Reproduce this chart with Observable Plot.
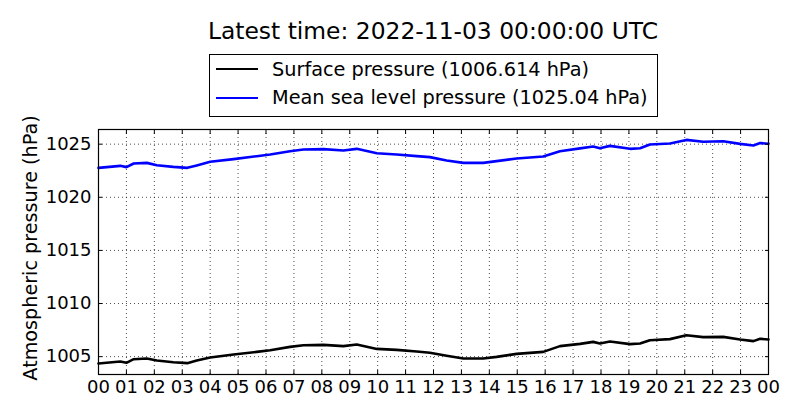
<!DOCTYPE html>
<html>
<head>
<meta charset="utf-8">
<script src="https://cdn.jsdelivr.net/npm/d3@7"></script>
<script src="https://cdn.jsdelivr.net/npm/@observablehq/plot@0.6"></script>
<style>
  html, body { margin: 0; padding: 0; background: #fff; }
  #wrap { position: relative; width: 800px; height: 420px; font-family: "DejaVu Sans", sans-serif; }
  #title { position: absolute; left: 98px; width: 670px; top: 17px; text-align: center; font-size: 23.4px; color: #000; white-space: nowrap; }
  #legend { position: absolute; left: 209px; top: 54px; width: 447px; height: 61px; border: 1px solid #000; background: #fff; }
  .entry { position: absolute; left: 6px; height: 24px; display: flex; align-items: center; font-size: 19.3px; white-space: nowrap; }
  .swatch { width: 42px; height: 0; border-top: 2.5px solid; margin-right: 14px; }
</style>
</head>
<body>
<div id="wrap">
  <div id="chart"></div>
  <div id="title"></div>
  <div id="legend"></div>
</div>
<script>
// Hours since 2022-11-02 00:00 UTC
const hours = [0, 0.78, 1.0, 1.26, 1.73, 2.09, 2.68, 3.18, 3.52, 4.0, 4.84, 5.67, 6.15, 6.86, 7.34, 8.06, 8.77, 9.25, 9.97, 10.68, 11.4, 11.87, 12.47, 13.07, 13.78, 14.26, 14.98, 15.93, 16.53, 17.25, 17.72, 17.96, 18.32, 19.04, 19.4, 19.75, 20.47, 21.06, 21.66, 22.38, 22.98, 23.46, 23.7, 24.0];
// Surface pressure (hPa)
const surface = [1004.36, 1004.55, 1004.42, 1004.76, 1004.83, 1004.64, 1004.48, 1004.39, 1004.64, 1004.92, 1005.2, 1005.45, 1005.61, 1005.92, 1006.08, 1006.11, 1005.99, 1006.15, 1005.73, 1005.64, 1005.49, 1005.36, 1005.08, 1004.83, 1004.83, 1004.98, 1005.26, 1005.45, 1005.99, 1006.2, 1006.39, 1006.24, 1006.43, 1006.18, 1006.24, 1006.55, 1006.65, 1007.02, 1006.84, 1006.86, 1006.62, 1006.46, 1006.68, 1006.614];
// Mean sea level pressure (hPa)
const mslp = [1022.77, 1022.96, 1022.84, 1023.18, 1023.24, 1023.02, 1022.86, 1022.77, 1023.0, 1023.34, 1023.59, 1023.87, 1024.03, 1024.34, 1024.5, 1024.53, 1024.4, 1024.56, 1024.15, 1024.03, 1023.87, 1023.78, 1023.46, 1023.24, 1023.24, 1023.4, 1023.65, 1023.84, 1024.34, 1024.6, 1024.78, 1024.62, 1024.84, 1024.56, 1024.62, 1024.97, 1025.06, 1025.4, 1025.22, 1025.28, 1025.03, 1024.88, 1025.1, 1025.04];
const seriesNames = ["Surface pressure", "Mean sea level pressure"];
const seriesColors = ["#000000", "#0000ff"];
const latestValues = ["1006.614", "1025.04"];
const xTicks = d3.range(0, 25);
const yTicks = [1005, 1010, 1015, 1020, 1025];
const yDomain = [1003.32, 1026.38];
const titleText = "Latest time: 2022-11-03 00:00:00 UTC";
const yLabel = "Atmospheric pressure (hPa)";

const surfData = hours.map((h, i) => ({h, p: surface[i]}));
const mslpData = hours.map((h, i) => ({h, p: mslp[i]}));
const hourFmt = d => String(d % 24).padStart(2, "0");

const chart = Plot.plot({
  width: 800,
  height: 420,
  marginLeft: 98,
  marginRight: 32,
  marginTop: 129,
  marginBottom: 46,
  style: {fontFamily: "DejaVu Sans, sans-serif", fontSize: "18px", color: "#000", background: "#fff"},
  x: {domain: [0, 24]},
  y: {domain: yDomain},
  marks: [
    Plot.gridX(xTicks, {stroke: "#000", strokeOpacity: 1, strokeWidth: 0.7, strokeDasharray: "1,3"}),
    Plot.gridY(yTicks, {stroke: "#000", strokeOpacity: 1, strokeWidth: 0.7, strokeDasharray: "1,3"}),
    Plot.line(surfData, {x: "h", y: "p", stroke: seriesColors[0], strokeWidth: 2.6}),
    Plot.line(mslpData, {x: "h", y: "p", stroke: seriesColors[1], strokeWidth: 2.6}),
    Plot.frame({stroke: "#000", strokeWidth: 1.2}),
    Plot.axisX(xTicks, {anchor: "bottom", tickSize: -4, tickPadding: 10, tickFormat: hourFmt, label: null, fontSize: 18}),
    Plot.axisX(xTicks, {anchor: "top", tickSize: -4, tickFormat: () => "", label: null}),
    Plot.axisY(yTicks, {anchor: "left", tickSize: -4, tickPadding: 11, tickFormat: d => String(d), label: null, fontSize: 18}),
    Plot.axisY(yTicks, {anchor: "right", tickSize: -4, tickFormat: () => "", label: null}),
    Plot.text([yLabel], {text: d => d, frameAnchor: "left", textAnchor: "middle", lineAnchor: "middle", rotate: -90, dx: -68, dy: -4, fontSize: 19.2, fill: "#000"})
  ]
});
document.getElementById("chart").appendChild(chart);

document.getElementById("title").textContent = titleText;
const legend = document.getElementById("legend");
seriesNames.forEach((name, i) => {
  const e = document.createElement("div");
  e.className = "entry";
  e.style.top = (2 + i * 28.5) + "px";
  const sw = document.createElement("span");
  sw.className = "swatch";
  sw.style.borderColor = seriesColors[i];
  const t = document.createElement("span");
  t.textContent = `${name} (${latestValues[i]} hPa)`;
  e.appendChild(sw);
  e.appendChild(t);
  legend.appendChild(e);
});
</script>
</body>
</html>
